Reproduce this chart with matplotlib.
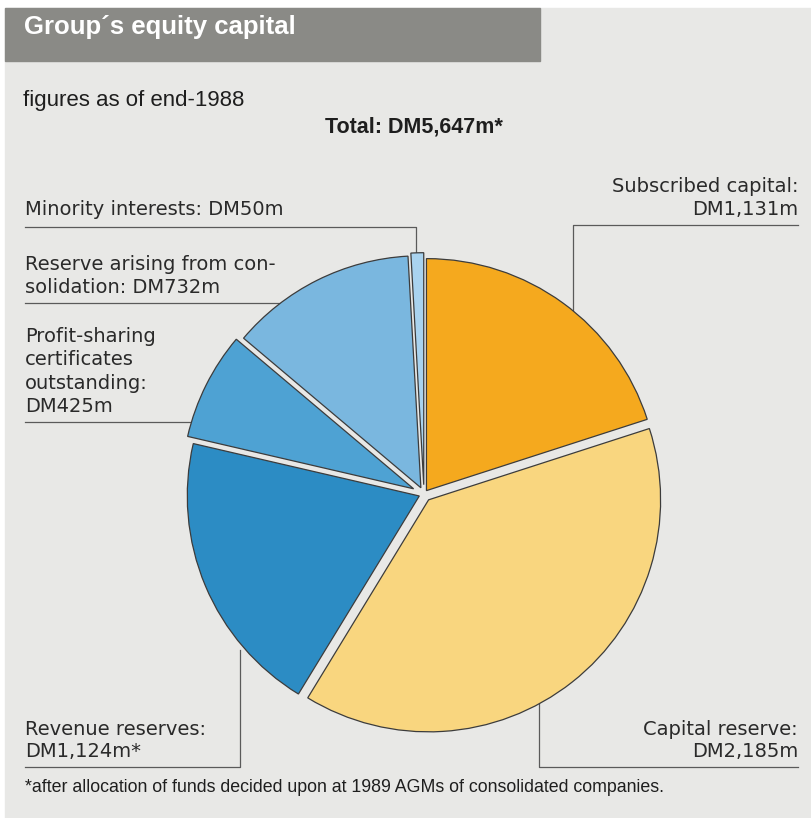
import matplotlib.pyplot as plt
import matplotlib.patches as patches

W, H = 811, 818

# DM millions, clockwise from twelve o'clock
names = ['Subscribed capital', 'Capital reserve', 'Revenue reserves',
         'Profit-sharing certificates outstanding',
         'Reserve arising from consolidation', 'Minority interests']
values = [1131, 2185, 1124, 425, 732, 50]
colors = ['#f5a91e', '#f9d67f', '#2c8cc4', '#4ea2d3', '#7ab7df', '#a9d3ef']
explode = [0.018, 0.032, 0.022, 0.05, 0.03, 0.04]
starred = [False, False, True, False, False, False]

total = sum(values)
amounts = ['DM{:,}m'.format(v) + ('*' if s else '') for v, s in zip(values, starred)]

label_font = dict(family='DejaVu Sans', size=14, color='#2a2a2a')
narrow_font = dict(family='Liberation Sans', color='#1e1e1e')
line_kw = dict(color='#5a5a5a', lw=0.9, zorder=1)
radius = 232


def Y(y):
    # positions are measured from the top edge
    return H - y


fig = plt.figure(figsize=(W / 100, H / 100), dpi=100, facecolor='white')
ax = fig.add_axes([0, 0, 1, 1])
ax.axis('off')

# panel and title bar
ax.add_patch(patches.Rectangle((5, 0), W - 5, Y(8), color='#e8e8e6', zorder=0))
ax.add_patch(patches.Rectangle((5, Y(61)), 535, 53, color='#8a8a86', zorder=0.5))
ax.text(24, Y(34), 'Group\u00b4s equity capital', fontsize=18.5, fontweight='bold',
        family='Liberation Sans', color='white', va='baseline')
ax.text(23, Y(106), 'figures as of end-1988', fontsize=16, va='baseline', **narrow_font)
ax.text(414, Y(133), 'Total: DM{:,}m*'.format(total), fontsize=15.5, fontweight='bold',
        ha='center', va='baseline', **narrow_font)

# pie explode offsets are in data units, so scale by the radius
wedges, _ = ax.pie(values, colors=colors, explode=[e * radius for e in explode],
                   startangle=90, counterclock=False, radius=radius,
                   center=(424, Y(494)), frame=True,
                   wedgeprops=dict(edgecolor='#3c3c3c', linewidth=0.9, zorder=2))

# leader lines (drawn beneath the pie)
ax.plot([25, 416, 416], [Y(227), Y(227), Y(258)], **line_kw)
ax.plot([25, 300], [Y(303), Y(303)], **line_kw)
ax.plot([25, 205], [Y(422), Y(422)], **line_kw)
ax.plot([25, 240, 240], [Y(767), Y(767), Y(650)], **line_kw)
ax.plot([798, 539, 539], [Y(767), Y(767), Y(690)], **line_kw)
ax.plot([798, 573, 573], [Y(225), Y(225), Y(325)], **line_kw)

# labels, one text per line
labels = [
    (25, 'left', [215], ['Minority interests: ' + amounts[5]]),
    (25, 'left', [270, 293], ['Reserve arising from con-', 'solidation: ' + amounts[4]]),
    (25, 'left', [342, 365, 389, 412],
     ['Profit-sharing', 'certificates', 'outstanding:', amounts[3]]),
    (25, 'left', [735, 757], ['Revenue reserves:', amounts[2]]),
    (798, 'right', [735, 757], ['Capital reserve:', amounts[1]]),
    (798, 'right', [192, 215], ['Subscribed capital:', amounts[0]]),
]
for x, ha, ys, lines in labels:
    for y, s in zip(ys, lines):
        ax.text(x, Y(y), s, ha=ha, va='baseline', **label_font)

ax.text(25, Y(792), '*after allocation of funds decided upon at 1989 AGMs of '
        'consolidated companies.', fontsize=12.8, va='baseline', **narrow_font)

ax.set_xlim(0, W)
ax.set_ylim(0, H)
ax.set_aspect('auto')
fig.savefig('out.png', dpi=100, facecolor='white')
